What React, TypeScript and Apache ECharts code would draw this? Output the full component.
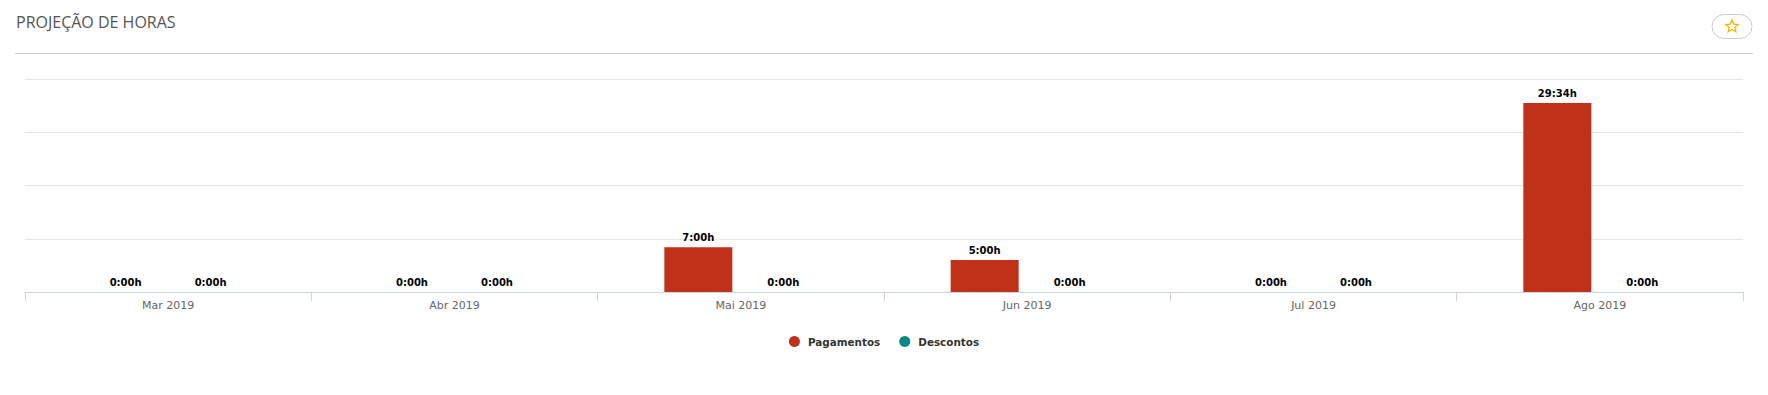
import React, { useEffect, useRef } from "react";
import * as echarts from "echarts";

const title = "PROJEÇÃO DE HORAS";
const categories = ["Mar 2019", "Abr 2019", "Mai 2019", "Jun 2019", "Jul 2019", "Ago 2019"];
// values in minutes
const pagamentos = [0, 0, 420, 300, 0, 1774];
const descontos = [0, 0, 0, 0, 0, 0];
const seriesNames = ["Pagamentos", "Descontos"];

const fmt = (m: number) => {
  const h = Math.floor(m / 60);
  const mm = Math.round(m - h * 60);
  return `${h}:${mm < 10 ? "0" + mm : mm}h`;
};

function starPoints(cx: number, cy: number, R: number, r: number) {
  const pts: number[][] = [];
  for (let i = 0; i < 10; i++) {
    const a = -Math.PI / 2 + (i * Math.PI) / 5;
    const rad = i % 2 === 0 ? R : r;
    pts.push([cx + rad * Math.cos(a), cy + rad * Math.sin(a)]);
  }
  return pts;
}

export default function App() {
  const ref = useRef<HTMLDivElement>(null);
  useEffect(() => {
    if (!ref.current) return;
    const chart = echarts.init(ref.current, undefined, { renderer: "svg" });
    const label = {
      show: true,
      position: "top" as const,
      distance: 5,
      formatter: (p: any) => fmt(p.value),
      fontFamily: "DejaVu Sans",
      fontSize: 10,
      fontWeight: "bold" as const,
      color: "#000",
    };
    chart.setOption({
      animation: false,
      backgroundColor: "#fff",
      textStyle: { fontFamily: "DejaVu Sans" },
      graphic: [
        {
          type: "text",
          left: 16,
          top: 14,
          style: {
            text: title,
            fontFamily: "Open Sans",
            fontSize: 16,
            fill: "#555",
          },
        },
        {
          type: "line",
          shape: { x1: 15, y1: 53.5, x2: 1753, y2: 53.5 },
          style: { stroke: "#ccc", lineWidth: 1 },
        },
        {
          type: "rect",
          shape: { x: 1712, y: 14.5, width: 40, height: 24, r: 12 },
          style: { fill: "#fff", stroke: "#ccc", lineWidth: 1 },
        },
        {
          type: "polygon",
          shape: { points: starPoints(1732, 26.5, 6.5, 3) },
          style: { fill: "none", stroke: "#f2b600", lineWidth: 1.3 },
        },
      ],
      legend: {
        data: seriesNames,
        left: "center",
        top: 331,
        icon: "circle",
        itemWidth: 17,
        itemHeight: 11,
        itemGap: 19,
        textStyle: { fontFamily: "DejaVu Sans", fontSize: 10.4, fontWeight: "bold", color: "#333" },
      },
      grid: { left: 25, right: 25, top: 79, bottom: 103, containLabel: false },
      xAxis: {
        type: "category",
        data: categories,
        axisLine: { lineStyle: { color: "#ccd6eb" } },
        axisTick: { show: true, length: 9, lineStyle: { color: "#ccd6eb" } },
        axisLabel: { color: "#666", fontSize: 11, fontFamily: "DejaVu Sans", margin: 8 },
      },
      yAxis: {
        type: "value",
        min: 0,
        max: 2000,
        interval: 500,
        axisLabel: { show: false },
        axisLine: { show: false },
        axisTick: { show: false },
        splitLine: { lineStyle: { color: "#e6e6e6" } },
      },
      series: [
        {
          name: seriesNames[0],
          type: "bar",
          data: pagamentos,
          barWidth: 68,
          barGap: "25%",
          itemStyle: { color: "#c0311a" },
          label,
        },
        {
          name: seriesNames[1],
          type: "bar",
          data: descontos,
          barWidth: 68,
          itemStyle: { color: "#0b8784" },
          label,
        },
      ],
    });
    return () => chart.dispose();
  }, []);
  return (
    <div
      ref={ref}
      style={{ position: "absolute", left: 0, top: 0, width: 1768, height: 395, background: "#fff" }}
    />
  );
}
